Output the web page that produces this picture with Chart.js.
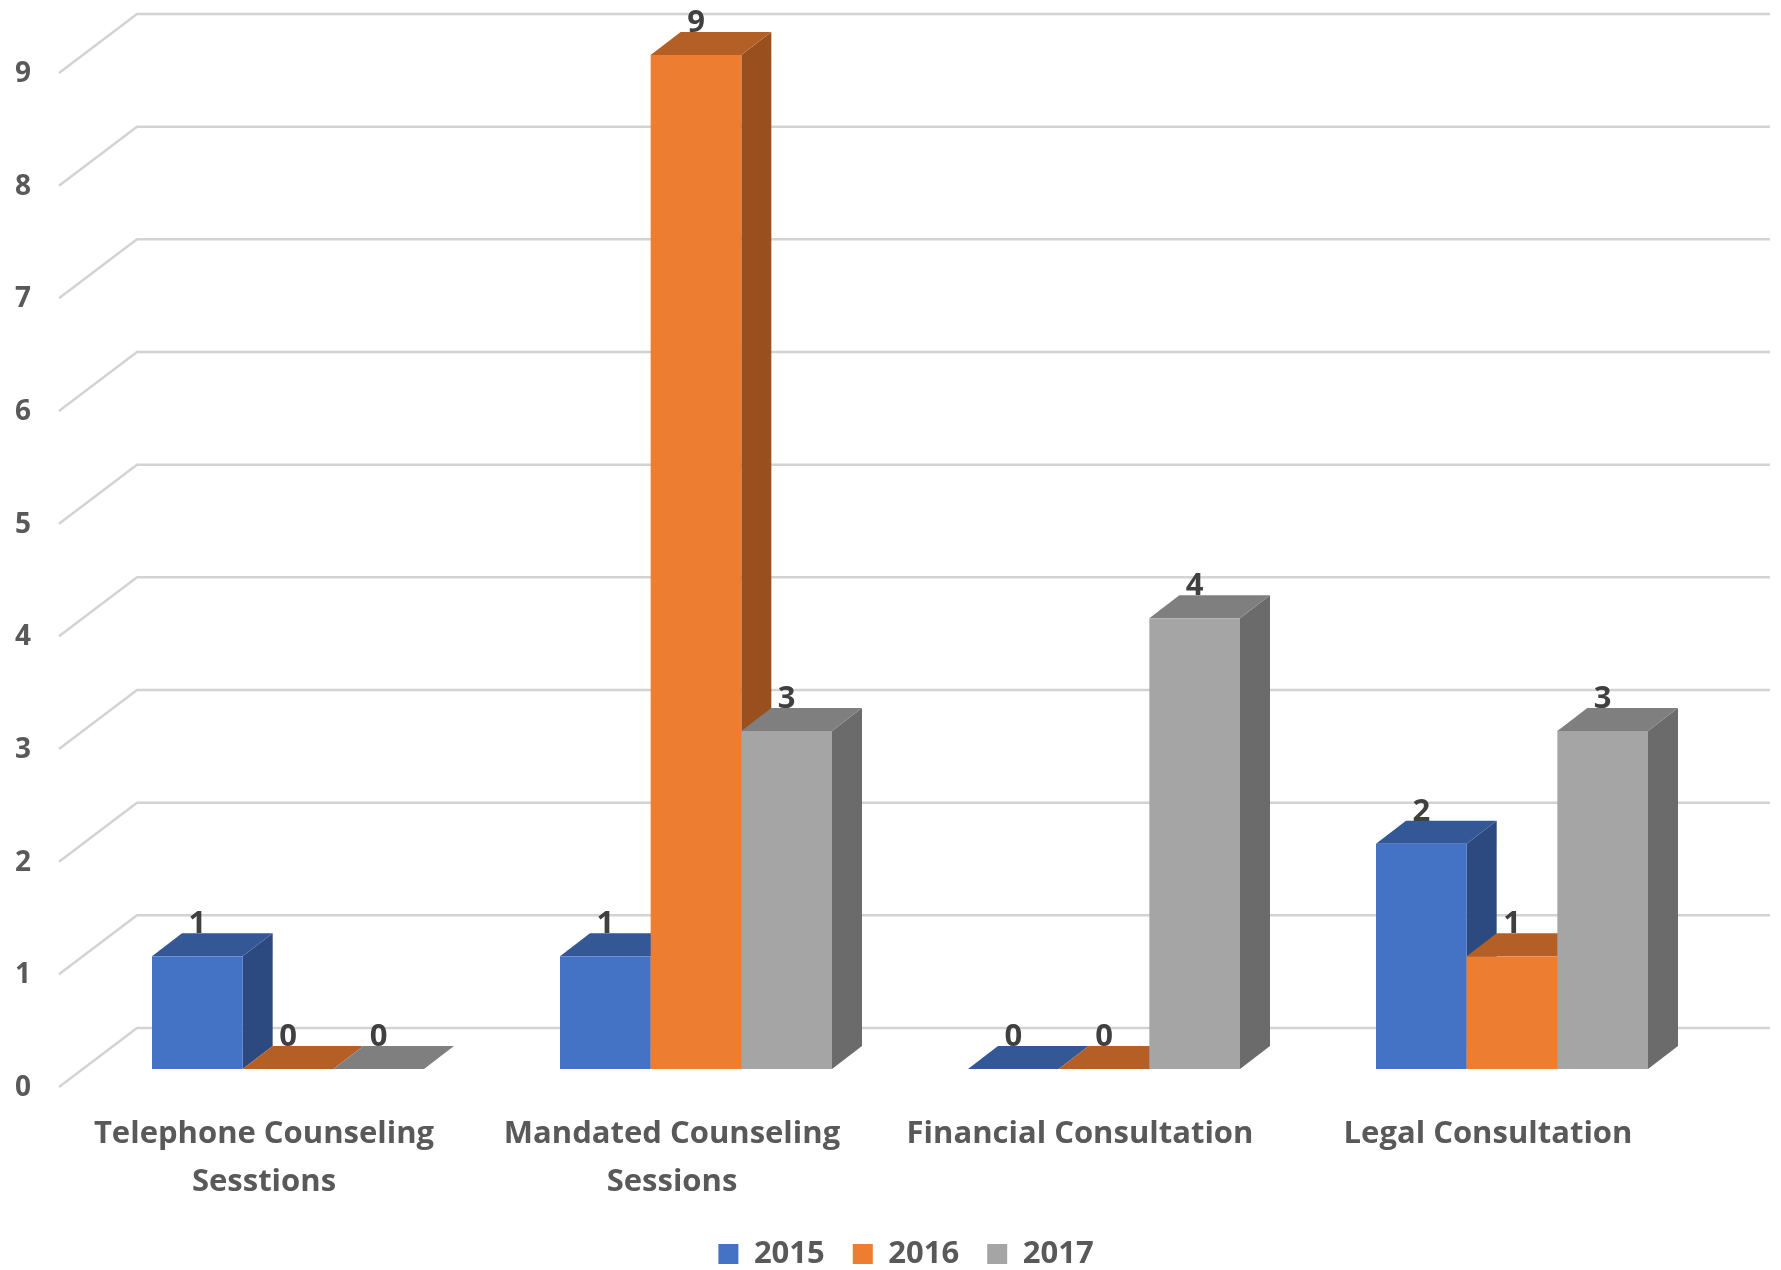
<!DOCTYPE html>
<html>
<head>
<meta charset="utf-8">
<script src="https://cdn.jsdelivr.net/npm/chart.js@4.4.1/dist/chart.umd.min.js"></script>
<style>
  html, body { margin: 0; padding: 0; background: #fff; }
</style>
</head>
<body>
<canvas id="canvas" width="1781" height="1270"></canvas>
<script>
// data
const categories = [['Telephone Counseling', 'Sesstions'], ['Mandated Counseling', 'Sessions'], 'Financial Consultation', 'Legal Consultation'];
const years = ['2015', '2016', '2017'];
const values2015 = [1, 1, 0, 2];
const values2016 = [0, 9, 0, 1];
const values2017 = [0, 3, 4, 3];
const yTicks = [0, 1, 2, 3, 4, 5, 6, 7, 8, 9];

// colours for front / top / side faces
const frontColors = ['#4472C4', '#ED7D31', '#A5A5A5'];
const topColors = ['#345795', '#B45F25', '#7F7F7F'];
const sideColors = ['#2C4A7F', '#9A4F1E', '#6B6B6B'];

const FONT = '"Open Sans"';
const DX = 30, DY = 23; // bar depth

// draws the 3d gridlines, bars and their value labels
const bars3d = {
  id: 'bars3d',
  beforeDatasetsDraw(chart) {
    const ctx = chart.ctx;
    const area = chart.chartArea;
    const yScale = chart.scales.y;

    ctx.save();
    ctx.strokeStyle = '#d3d3d3';
    ctx.lineWidth = 2.5;
    ctx.lineJoin = 'round';
    yTicks.forEach(v => {
      const py = yScale.getPixelForValue(v);
      ctx.beginPath();
      ctx.moveTo(area.left - 25, py + 18);
      ctx.lineTo(area.left + 53, py - 41);
      ctx.lineTo(area.right + 54, py - 41);
      ctx.stroke();
    });

    const metas = chart.data.datasets.map((d, i) => chart.getDatasetMeta(i));
    for (let c = 0; c < chart.data.labels.length; c++) {
      metas.forEach((meta, di) => {
        const b = meta.data[c].getProps(['x', 'y', 'base', 'width'], true);
        const l = b.x - b.width / 2, r = b.x + b.width / 2;
        const t = Math.min(b.y, b.base), bot = b.base;
        // side
        ctx.fillStyle = sideColors[di];
        ctx.beginPath();
        ctx.moveTo(r, bot);
        ctx.lineTo(r + DX, bot - DY);
        ctx.lineTo(r + DX, t - DY);
        ctx.lineTo(r, t);
        ctx.closePath();
        ctx.fill();
        // top
        ctx.fillStyle = topColors[di];
        ctx.beginPath();
        ctx.moveTo(l, t);
        ctx.lineTo(l + DX, t - DY);
        ctx.lineTo(r + DX, t - DY);
        ctx.lineTo(r, t);
        ctx.closePath();
        ctx.fill();
        // front
        if (bot - t > 0) {
          ctx.fillStyle = frontColors[di];
          ctx.fillRect(l, t, r - l, bot - t);
        }
      });
    }

    ctx.font = 'bold 31px ' + FONT;
    ctx.fillStyle = '#404040';
    ctx.textAlign = 'center';
    ctx.textBaseline = 'alphabetic';
    metas.forEach((meta, di) => {
      meta.data.forEach((bar, c) => {
        const b = bar.getProps(['x', 'y'], true);
        ctx.fillText(String(chart.data.datasets[di].data[c]), b.x, b.y - DY);
      });
    });
    ctx.restore();
    return false;
  },
  afterLayout(chart) {
    // legend sits a bit right of centre in the original
    chart.legend.left += 40.5;
    chart.legend.right += 40.5;
  }
};

new Chart(document.getElementById('canvas'), {
  type: 'bar',
  data: {
    labels: categories,
    datasets: [
      { label: years[0], data: values2015, backgroundColor: frontColors[0] },
      { label: years[1], data: values2016, backgroundColor: frontColors[1] },
      { label: years[2], data: values2017, backgroundColor: frontColors[2] }
    ]
  },
  options: {
    responsive: false,
    animation: false,
    layout: { padding: { left: 15, right: 65, top: 55, bottom: -9.5 } },
    datasets: { bar: { categoryPercentage: 0.6667, barPercentage: 1 } },
    scales: {
      x: {
        grid: { display: false, drawTicks: false },
        border: { display: false },
        ticks: {
          color: '#595959',
          font: { family: FONT, size: 31, weight: 'bold', lineHeight: 1.52 },
          padding: 42,
          labelOffset: -24,
          maxRotation: 0,
          autoSkip: false
        },
        afterFit(s) { s.height = 141.5; }
      },
      y: {
        min: 0,
        max: 9,
        grid: { display: false, drawTicks: false },
        border: { display: false },
        ticks: {
          stepSize: 1,
          color: '#595959',
          font: { family: FONT, size: 28, weight: 'bold' },
          padding: 0,
          crossAlign: 'far',
          labelOffset: 19
        },
        afterFit(s) { s.width = 69; }
      }
    },
    plugins: {
      legend: {
        position: 'bottom',
        labels: {
          boxWidth: 20,
          boxHeight: 20,
          padding: 28,
          color: '#595959',
          font: { family: FONT, size: 31, weight: 'bold' }
        }
      },
      tooltip: { enabled: false }
    }
  },
  plugins: [bars3d]
});
</script>
</body>
</html>
